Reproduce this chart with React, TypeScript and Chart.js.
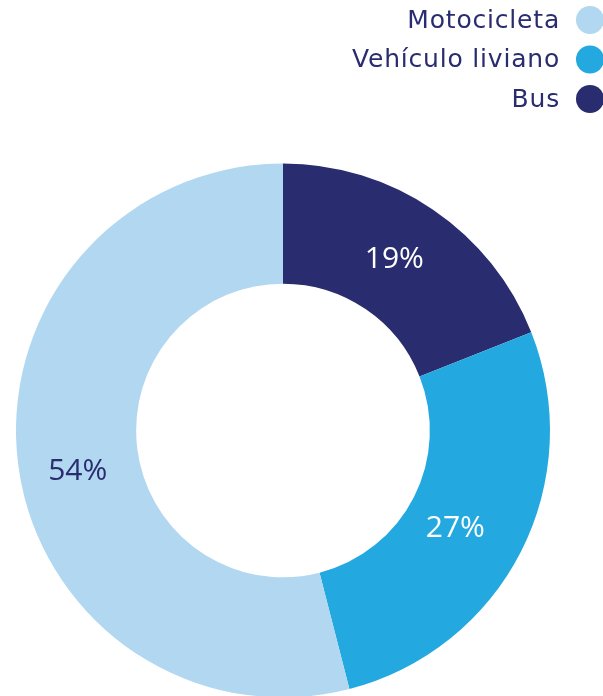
import React, { useEffect, useRef } from "react";
import { Chart, registerables } from "chart.js";

Chart.register(...registerables);

const categories = ["Bus", "Vehículo liviano", "Motocicleta"];
const values = [19, 27, 54];
const colors = ["#2a2c70", "#23a9e0", "#b2d7f0"];
const labelColors = ["#ffffff", "#ffffff", "#2a2c70"];
const legendOrder = ["Motocicleta", "Vehículo liviano", "Bus"];
// small pixel nudges for value labels (style config, not data)
const labelNudge = [
  [-5, 0],
  [-12, 4],
  [0, 15],
];

const LABEL_FONT = "'Open Sans', sans-serif";
const LEGEND_FONT = "'DejaVu Sans', sans-serif";
const NAVY = "#2a2c70";

const overlayPlugin = {
  id: "overlay",
  afterDatasetsDraw(chart: any) {
    const ctx = chart.ctx;
    const meta = chart.getDatasetMeta(0);
    ctx.save();
    ctx.font = `400 30px ${LABEL_FONT}`;
    ctx.textAlign = "center";
    ctx.textBaseline = "middle";
    meta.data.forEach((arc: any, i: number) => {
      const p = arc.getProps(["x", "y", "startAngle", "endAngle", "innerRadius", "outerRadius"], true);
      const mid = (p.startAngle + p.endAngle) / 2;
      const r = (p.innerRadius + p.outerRadius) / 2;
      ctx.fillStyle = labelColors[i];
      ctx.fillText(
        values[i] + "%",
        p.x + Math.cos(mid) * r + labelNudge[i][0],
        p.y + Math.sin(mid) * r + labelNudge[i][1]
      );
    });
    const right = chart.width;
    ctx.font = `400 25px ${LEGEND_FONT}`;
    (ctx as any).letterSpacing = "0.8px";
    ctx.textAlign = "right";
    legendOrder.forEach((name, j) => {
      const idx = categories.indexOf(name);
      const cy = 20 + j * 39.5;
      ctx.fillStyle = colors[idx];
      ctx.beginPath();
      ctx.arc(right - 13, cy, 14, 0, Math.PI * 2);
      ctx.fill();
      ctx.fillStyle = NAVY;
      ctx.fillText(name, right - 43, cy + 1);
    });
    ctx.restore();
  },
};

export default function App() {
  const ref = useRef<HTMLCanvasElement>(null);
  useEffect(() => {
    document.body.style.margin = "0";
    const chart = new Chart(ref.current!, {
      type: "doughnut",
      data: {
        labels: categories,
        datasets: [
          {
            data: values,
            backgroundColor: colors,
            borderWidth: 0,
            hoverOffset: 0,
          },
        ],
      },
      options: {
        animation: false,
        responsive: true,
        maintainAspectRatio: false,
        cutout: "55%",
        rotation: 0,
        layout: { padding: { top: 163, left: 16, right: 53, bottom: 0 } },
        plugins: {
          legend: { display: false },
          tooltip: { enabled: false },
        },
      },
      plugins: [overlayPlugin],
    });
    return () => chart.destroy();
  }, []);
  return (
    <div style={{ position: "relative", width: 603, height: 698 }}>
      <canvas ref={ref} />
    </div>
  );
}
